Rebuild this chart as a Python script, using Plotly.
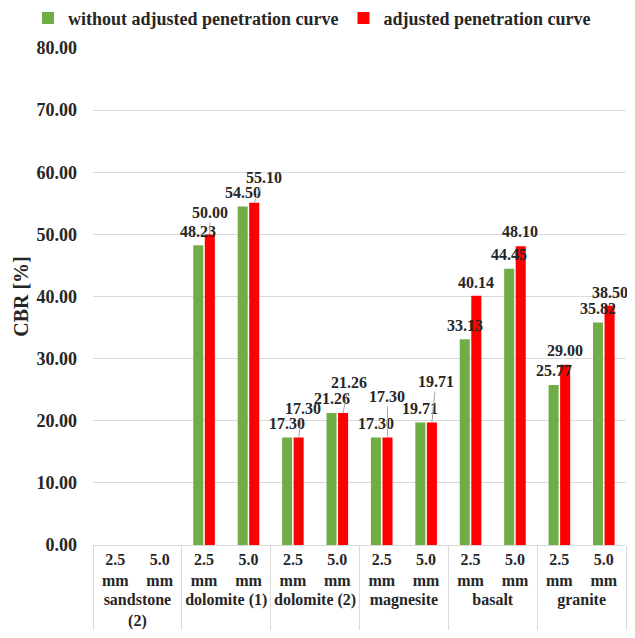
import plotly.graph_objects as go

# CBR values
materials = ["sandstone<br>(2)", "dolomite (1)", "dolomite (2)", "magnesite", "basalt", "granite"]
depths = ["2.5<br>mm", "5.0<br>mm"]
without_adjusted = [None, None, 48.23, 54.50, 17.30, 21.26, 17.30, 19.71, 33.13, 44.45, 25.77, 35.82]
adjusted = [None, None, 50.00, 55.10, 17.30, 21.26, 17.30, 19.71, 40.14, 48.10, 29.00, 38.50]
y_ticks = [0, 10, 20, 30, 40, 50, 60, 70, 80]

# label placement (pixels): horizontal shift and rise of the red labels, leader line on/off
red_dx = [0, 0, 0, 10, 4, 6, 0, 4, 0, -1, 0, 0]
red_rise = [0, 0, 22, 25, 29, 30, 41, 41, 13, 15, 14, 13]
red_leader = [False, False, True, True, True, True, True, True, False, False, False, False]
green_rise = 14

GREEN = "#70AD47"
RED = "#FF0000"
TXT = "#262626"
GRID = "#D9D9D9"
FONT = "Times New Roman, Liberation Serif, serif"
BARGAP = 0.48

x_cat = [[m for m in materials for _ in depths], [d for _ in materials for d in depths]]

fig = go.Figure()
fig.add_trace(go.Bar(x=x_cat, y=without_adjusted, name="without adjusted penetration curve",
                     marker=dict(color=GREEN, line=dict(width=0))))
fig.add_trace(go.Bar(x=x_cat, y=adjusted, name="adjusted penetration curve",
                     marker=dict(color=RED, line=dict(width=0))))

# data labels, placed on an overlaid linear axis that follows the category slots
half = (1 - BARGAP) / 4
annotations = []
for i, v in enumerate(without_adjusted):
    if v is None:
        continue
    annotations.append(dict(x=i - half, y=v, xref="x2", yref="y", text=f"<b>{v:.2f}</b>",
                            showarrow=True, arrowcolor="rgba(0,0,0,0)", ax=0, ay=-green_rise,
                            font=dict(family=FONT, size=16, color=TXT)))
for i, v in enumerate(adjusted):
    if v is None:
        continue
    annotations.append(dict(x=i + half, y=v, xref="x2", yref="y", text=f"<b>{v:.2f}</b>",
                            showarrow=True, arrowhead=0, arrowwidth=1, standoff=0,
                            arrowcolor="#A6A6A6" if red_leader[i] else "rgba(0,0,0,0)",
                            ax=red_dx[i], ay=-red_rise[i],
                            font=dict(family=FONT, size=16, color=TXT)))

# the page puts the figure 8px in from the top-left corner, so size and margins allow for it
fig.update_layout(
    width=627, height=630,
    margin=dict(l=85, r=9, t=40, b=93, autoexpand=False),
    paper_bgcolor="white", plot_bgcolor="white",
    barmode="group", bargap=BARGAP, bargroupgap=0.13,
    font=dict(family=FONT, size=16, color=TXT, weight="bold"),
    legend=dict(orientation="h", x=-0.122, xanchor="left", y=1.06, yanchor="middle",
                font=dict(family=FONT, size=18, color=TXT, weight="bold"),
                itemwidth=30, traceorder="normal"),
    xaxis=dict(type="multicategory", range=[-0.5, 11.5], showline=True, linecolor=GRID,
               showdividers=True, dividercolor=GRID, dividerwidth=1, ticks="",
               tickfont=dict(family=FONT, size=16, color=TXT, weight="bold")),
    xaxis2=dict(overlaying="x", anchor="y", range=[-0.5, 11.5], visible=False),
    yaxis=dict(range=[0, 80], tickvals=y_ticks, tickformat=".2f", showgrid=True, gridcolor=GRID,
               zeroline=False, ticks="", ticklabelstandoff=15,
               tickfont=dict(family=FONT, size=18, color=TXT, weight="bold"),
               title=dict(text="CBR [%]", standoff=2,
                          font=dict(family=FONT, size=20, color=TXT, weight="bold"))),
    annotations=annotations,
)

fig.write_html("out.html")
